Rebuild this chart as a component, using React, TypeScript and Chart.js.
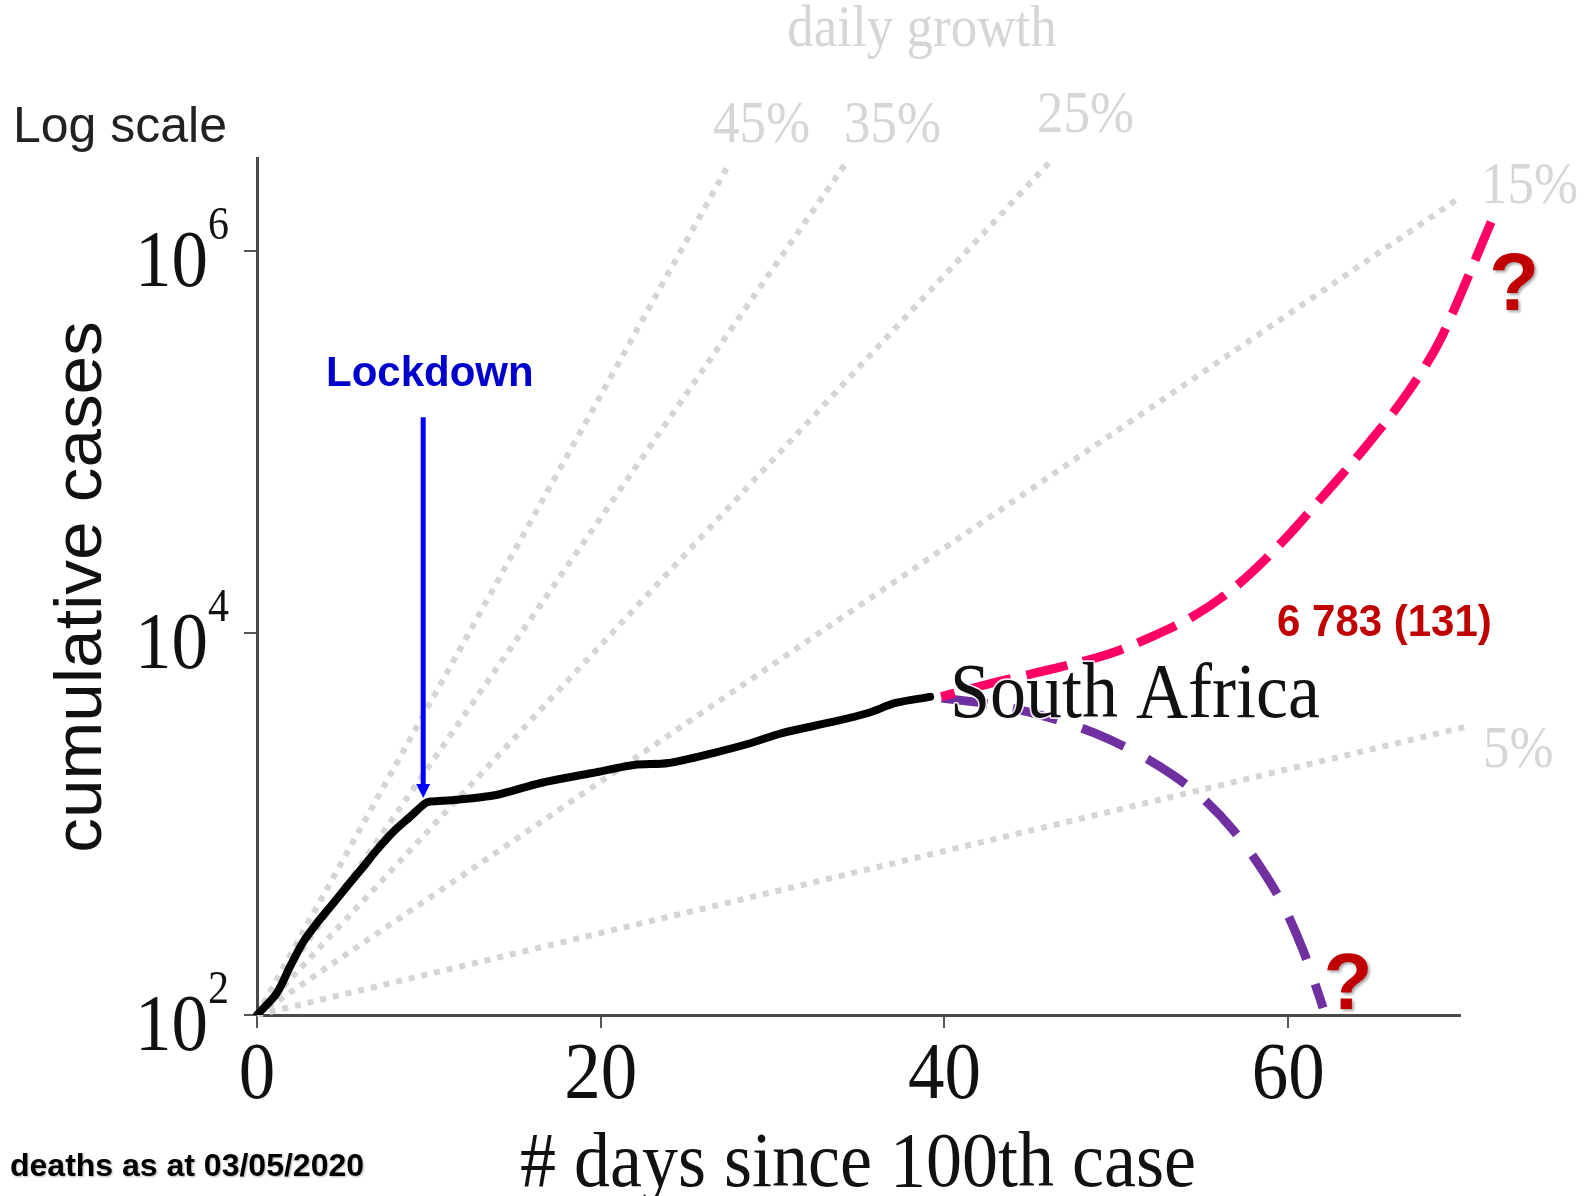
import React, { useEffect, useRef } from 'react';
import { Chart, registerables } from 'chart.js';

Chart.register(...registerables);

// ---------------- data ----------------
// South Africa: cumulative cases by # days since 100th case
const saDays = [0, 1.15, 1.92, 2.7, 3.48, 4.44, 5.22, 6.19, 6.97, 7.94, 8.91, 9.78, 10.08, 11.47, 13.92, 16.51, 19.51, 21.93, 23.94, 26.54, 28.75, 30.55, 33.55, 35.56, 37.16, 39.17];
const saCases = [100, 130, 179, 242, 302, 385, 470, 598, 731, 912, 1092, 1283, 1312, 1336, 1419, 1640, 1849, 2037, 2085, 2353, 2655, 2995, 3433, 3811, 4302, 4634];

// scenario "up" (pink dashed)
const upDays = [39.81, 42.74, 46.83, 49.74, 52.07, 54.43, 56.48, 58.23, 59.93, 61.68, 64.59, 66.98, 68.72, 69.77, 70.76, 71.81];
const upCases = [4645, 5458, 6668, 7860, 9570, 12170, 16190, 22230, 31860, 47970, 96400, 182800, 325800, 521000, 845000, 1419000];

// scenario "down" (purple dashed)
const downDays = [39.84, 43.27, 46.19, 48.75, 51.08, 53.29, 55.15, 56.79, 58.42, 59.7, 60.86, 61.79, 62.03];
const downCases = [4571, 4150, 3589, 2992, 2382, 1806, 1336, 931, 589, 377, 219, 127, 109];

// daily growth reference lines (start at day 0, 100 cases)
const growthLabels = ['45%', '35%', '25%', '15%', '5%'];
const growthEndDays = [27.43, 34.27, 46.07, 69.83, 70.33];
const growthEndCases = [2820000, 2890000, 2890000, 1860000, 3228];

// axes
const xTicks = [0, 20, 40, 60];
const yTicks = [100, 10000, 1000000];
const yTickExp = ['2', '4', '6'];
const xMin = 0;
const xMax = 70;
const yMin = 100;
const yMax = 3070000;

// lockdown marker
const lockdownDay = 9.67;
const lockdownTop = 135000;
const lockdownTip = 1368;

// texts
const titleText = 'daily growth';
const logScaleText = 'Log scale';
const yTitle = 'cumulative cases';
const xTitle = '# days since 100th case';
const countryText = 'South Africa';
const lockdownText = 'Lockdown';
const countText = '6 783 (131)';
const footText = 'deaths as at 03/05/2020';
const questionText = '?';

// ---------------- layout / style (pixels) ----------------
const W = 1587;
const H = 1196;
const SERIF = "'Liberation Serif', 'Times New Roman', serif";
const SANS = "'Liberation Sans', Arial, sans-serif";
const SY = 1.1; // vertical stretch of the serif chart text
const growthLabelPos = [
  [713, 142], [844, 142], [1037, 132], [1481, 203], [1483, 767],
];

function txt(ctx: CanvasRenderingContext2D, s: string, x: number, y: number, font: string, color: string,
  align: CanvasTextAlign = 'left', sx = 1, sy = 1, rot = 0) {
  ctx.save();
  ctx.translate(x, y);
  if (rot) ctx.rotate(rot);
  ctx.scale(sx, sy);
  ctx.font = font;
  ctx.fillStyle = color;
  ctx.textAlign = align;
  ctx.textBaseline = 'alphabetic';
  ctx.fillText(s, 0, 0);
  ctx.restore();
}

const decorPlugin = {
  id: 'decor',
  afterDraw(chart: any) {
    const ctx: CanvasRenderingContext2D = chart.ctx;
    const xs = chart.scales.x;
    const ys = chart.scales.y;

    // y tick labels 10^n
    yTicks.forEach((v, i) => {
      const py = ys.getPixelForValue(v);
      txt(ctx, '10', 208, py + 35, `73px ${SERIF}`, '#111', 'right', 1, SY);
      txt(ctx, yTickExp[i], 208, py - 12, `42px ${SERIF}`, '#111', 'left', 1, SY);
    });
    // x tick labels
    xTicks.forEach((v) => {
      const px = xs.getPixelForValue(v);
      txt(ctx, String(v), px, 1098, `73px ${SERIF}`, '#111', 'center', 1, SY);
    });

    // axis titles
    txt(ctx, xTitle, 858, 1186, `72px ${SERIF}`, '#111', 'center', 1, SY);
    txt(ctx, yTitle, 101, 587, `66px ${SANS}`, '#111', 'center', 1.05, 1, -Math.PI / 2);
    txt(ctx, logScaleText, 13, 142, `50px ${SANS}`, '#222', 'left');

    // growth texts
    txt(ctx, titleText, 922, 46, `53px ${SERIF}`, '#d6d6d6', 'center', 1, SY);
    growthLabels.forEach((g, i) => {
      txt(ctx, g, growthLabelPos[i][0], growthLabelPos[i][1], `53px ${SERIF}`, '#d6d6d6', 'left', 1, SY);
    });

    // lockdown arrow
    const ax = xs.getPixelForValue(lockdownDay);
    const aTop = ys.getPixelForValue(lockdownTop);
    const aTip = ys.getPixelForValue(lockdownTip);
    ctx.save();
    ctx.strokeStyle = '#0000ff';
    ctx.lineWidth = 5;
    ctx.beginPath();
    ctx.moveTo(ax, aTop);
    ctx.lineTo(ax, aTip - 12);
    ctx.stroke();
    ctx.fillStyle = '#0000ff';
    ctx.beginPath();
    ctx.moveTo(ax - 7, aTip - 14);
    ctx.lineTo(ax + 7, aTip - 14);
    ctx.lineTo(ax, aTip);
    ctx.closePath();
    ctx.fill();
    ctx.restore();
    txt(ctx, lockdownText, 326, 386, `bold 42px ${SANS}`, '#0000cc', 'left');

    // country label with white halo
    ctx.save();
    ctx.translate(950, 717);
    ctx.scale(1, SY);
    ctx.font = `72px ${SERIF}`;
    ctx.lineWidth = 3;
    ctx.strokeStyle = 'rgba(255,255,255,0.9)';
    ctx.lineJoin = 'round';
    ctx.strokeText(countryText, 0, 0);
    ctx.fillStyle = '#111';
    ctx.fillText(countryText, 0, 0);
    ctx.restore();

    // count label
    txt(ctx, countText, 1277, 636, `bold 42px ${SANS}`, '#c00000', 'left', 1, 1.05);

    // question marks with 3D-ish shadow
    ctx.save();
    ctx.shadowColor = 'rgba(0,0,0,0.35)';
    ctx.shadowOffsetX = 2;
    ctx.shadowOffsetY = 2;
    ctx.shadowBlur = 3;
    txt(ctx, questionText, 1514, 310, `bold 82px ${SANS}`, '#c00000', 'center');
    txt(ctx, questionText, 1348, 1009, `bold 80px ${SANS}`, '#c00000', 'center');
    ctx.restore();

    // footnote
    ctx.save();
    ctx.shadowColor = 'rgba(0,0,0,0.3)';
    ctx.shadowOffsetX = 1;
    ctx.shadowOffsetY = 1;
    ctx.shadowBlur = 2;
    txt(ctx, footText, 10, 1176, `bold 32px ${SANS}`, '#000', 'left');
    ctx.restore();
  },
};

function xy(xsArr: number[], ysArr: number[]) {
  return xsArr.map((x, i) => ({ x, y: ysArr[i] }));
}

export default function App() {
  const ref = useRef<HTMLCanvasElement>(null);

  useEffect(() => {
    if (!ref.current) return;
    const growthSets = growthLabels.map((g, i) => ({
      label: `growth ${g}`,
      data: [{ x: 0, y: 100 }, { x: growthEndDays[i], y: growthEndCases[i] }],
      borderColor: '#d5d5d5',
      borderWidth: 6,
      borderDash: [6, 7],
      borderCapStyle: 'butt' as const,
      pointRadius: 0,
      tension: 0,
      clip: false as any,
      order: 10,
    }));

    const chart = new Chart(ref.current, {
      type: 'line',
      data: {
        datasets: [
          {
            label: 'South Africa',
            data: xy(saDays, saCases),
            borderColor: '#000',
            borderWidth: 8,
            pointRadius: 0,
            tension: 0.3,
            borderCapStyle: 'round',
            borderJoinStyle: 'round',
            order: 0,
          },
          {
            label: 'up',
            data: xy(upDays, upCases),
            borderColor: '#ff0066',
            borderWidth: 9,
            borderDash: [42, 16],
            borderDashOffset: 28,
            pointRadius: 0,
            cubicInterpolationMode: 'monotone',
            clip: false as any,
            order: 1,
          },
          {
            label: 'down',
            data: xy(downDays, downCases),
            borderColor: '#7030a0',
            borderWidth: 9,
            borderDash: [46, 26],
            pointRadius: 0,
            cubicInterpolationMode: 'monotone',
            clip: false as any,
            order: 1,
          },
          ...growthSets,
        ] as any,
      },
      options: {
        responsive: false,
        animation: false,
        events: [],
        layout: { padding: { left: 244, right: 127, top: 158, bottom: 168 } },
        plugins: { legend: { display: false }, tooltip: { enabled: false }, title: { display: false } },
        scales: {
          x: {
            type: 'linear',
            bounds: 'data',
            // range set after data limits so that scenario lines may run past the axis end
            afterDataLimits: (axis: any) => { axis.min = xMin; axis.max = xMax; },
            afterBuildTicks: (axis: any) => { axis.ticks = xTicks.map((v) => ({ value: v })); },
            ticks: { display: false },
            grid: { display: true, drawOnChartArea: false, drawTicks: true, tickLength: 13, color: '#555', lineWidth: 2 },
            border: { display: true, color: '#4a4a4a', width: 3 },
          },
          y: {
            type: 'logarithmic',
            min: yMin,
            max: yMax,
            afterBuildTicks: (axis: any) => { axis.ticks = yTicks.map((v) => ({ value: v })); },
            ticks: { display: false },
            grid: { display: true, drawOnChartArea: false, drawTicks: true, tickLength: 13, color: '#555', lineWidth: 2 },
            border: { display: true, color: '#4a4a4a', width: 3 },
          },
        },
      } as any,
      plugins: [decorPlugin],
    });
    return () => chart.destroy();
  }, []);

  return (
    <div style={{ position: 'absolute', left: 0, top: 0, width: W, height: H, background: '#fff' }}>
      <canvas ref={ref} width={W} height={H} style={{ width: W, height: H, display: 'block' }} />
    </div>
  );
}
